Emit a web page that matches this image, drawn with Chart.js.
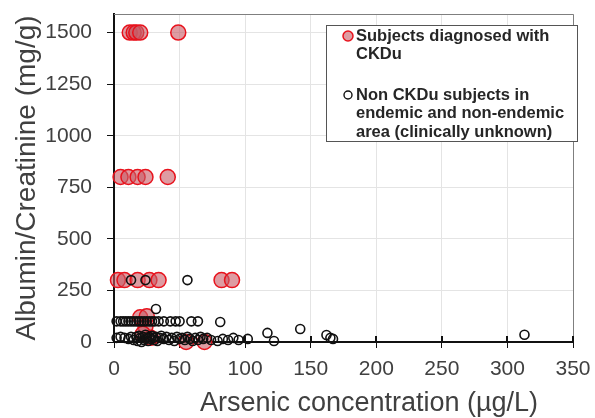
<!DOCTYPE html>
<html>
<head>
<meta charset="utf-8">
<script src="https://cdn.jsdelivr.net/npm/chart.js@4.4.0/dist/chart.umd.min.js"></script>
<style>body{margin:0;background:#fff}</style>
</head>
<body>
<canvas id="arsenicChart" width="595" height="418"></canvas>
<script>
// CKDu patients
var ckduX = [12, 15, 17, 20, 49,
             5, 11, 18, 24, 41,
             3, 8, 18, 27, 34, 82, 90,
             20, 25, 24, 28, 22, 55, 69];
var ckduY = [1500, 1500, 1500, 1500, 1500,
             800, 800, 800, 800, 800,
             300, 300, 300, 300, 300, 300, 300,
             120, 125, 75, 20, 40, 0, 0];

// non CKDu subjects
var otherX = [13, 24, 56, 32,
              2, 5, 7, 9, 11, 13, 15, 17, 19, 21, 23, 25, 27, 29, 31, 34, 38, 43, 47, 50, 59, 64, 81,
              2, 5, 8, 11, 13, 15, 17, 18, 19, 20, 21, 22, 23, 24, 25, 26, 27, 28, 29, 30, 31, 32, 33, 35, 36, 38,
              40, 42, 44, 46, 48, 50, 52, 54, 56, 58, 60, 62, 64, 66, 68, 71, 74, 79, 83, 87, 91, 95, 102,
              117, 122, 142, 162, 165, 167, 313];
var otherY = [300, 300, 300, 160,
              100, 100, 100, 100, 100, 100, 100, 100, 100, 100, 100, 100, 100, 100, 100, 100, 100, 100, 100, 100, 100, 100, 97,
              20, 25, 20, 15, 25, 10, 25, 5, 30, 20, 0, 25, 10, 35, 20, 5, 25, 15, 30, 20, 10, 25, 5, 20, 30, 15,
              25, 10, 20, 5, 25, 15, 20, 10, 25, 15, 5, 20, 10, 25, 15, 20, 10, 5, 15, 10, 20, 10, 15,
              44, 5, 63, 34, 20, 15, 35];

var xTicks = [0, 50, 100, 150, 200, 250, 300, 350];
var yTicks = [0, 250, 500, 750, 1000, 1250, 1500];
var xTitle = "Arsenic concentration (µg/L)";
var yTitle = "Albumin/Creatinine (mg/g)";
var legendLines = [["Subjects diagnosed with", "CKDu"],
                   ["Non CKDu subjects in", "endemic and non-endemic", "area (clinically unknown)"]];

var FONT = "'Liberation Sans', Arial, sans-serif";
var RED_FILL = "rgba(200, 90, 100, 0.6)";
var RED_LINE = "#e8121c";

function toPoints(xs, ys) {
    return xs.map(function(x, i) { return {x: x, y: ys[i]}; });
}

var extras = {
    id: "extras",
    beforeDatasetsDraw: function(chart) {
        var a = chart.chartArea, ctx = chart.ctx, xs = chart.scales.x;
        ctx.save();
        // top and right frame
        ctx.strokeStyle = "#7f7f7f";
        ctx.lineWidth = 1;
        ctx.beginPath();
        ctx.moveTo(a.left, a.top + 0.5);
        ctx.lineTo(a.right + 0.5, a.top + 0.5);
        ctx.lineTo(a.right + 0.5, a.bottom);
        ctx.stroke();
        // x ticks cross the axis
        ctx.strokeStyle = "#111";
        ctx.lineWidth = 2;
        xTicks.forEach(function(v) {
            var px = Math.round(xs.getPixelForValue(v));
            ctx.beginPath();
            ctx.moveTo(px, a.bottom - 6);
            ctx.lineTo(px, a.bottom);
            ctx.stroke();
        });
        // x axis title sits right of centre in the original
        ctx.font = "27px " + FONT;
        ctx.fillStyle = "#404040";
        ctx.textAlign = "center";
        ctx.textBaseline = "middle";
        ctx.fillText(xTitle, 369, 404);
        ctx.restore();
    },
    afterDraw: function(chart) {
        var ctx = chart.ctx;
        var bx = 326, by = 25, bw = 251, bh = 116;
        ctx.save();
        ctx.fillStyle = "#fff";
        ctx.fillRect(bx, by, bw, bh);
        ctx.strokeStyle = "#555";
        ctx.lineWidth = 1;
        ctx.strokeRect(bx + 0.5, by + 0.5, bw, bh);
        ctx.font = "bold 16.5px " + FONT;
        ctx.fillStyle = "#262626";
        ctx.textBaseline = "middle";
        var starts = [36, 95];
        legendLines.forEach(function(lines, k) {
            var y0 = starts[k];
            lines.forEach(function(t, j) {
                ctx.fillText(t, 356, y0 + j * 18.5);
            });
            ctx.beginPath();
            if (k === 0) {
                ctx.arc(348, y0, 5, 0, Math.PI * 2);
                ctx.fillStyle = RED_FILL;
                ctx.fill();
                ctx.strokeStyle = RED_LINE;
                ctx.lineWidth = 1.5;
                ctx.stroke();
            } else {
                ctx.arc(348, y0, 4, 0, Math.PI * 2);
                ctx.strokeStyle = "#111";
                ctx.lineWidth = 1.4;
                ctx.stroke();
            }
            ctx.fillStyle = "#262626";
        });
        ctx.restore();
    }
};

new Chart("arsenicChart", {
    type: "scatter",
    data: {
        datasets: [{
            label: "Non CKDu subjects",
            data: toPoints(otherX, otherY),
            backgroundColor: "rgba(0,0,0,0)",
            borderColor: "#111",
            borderWidth: 1.6,
            pointRadius: 4.5,
            clip: false,
            order: 1
        }, {
            label: "Subjects diagnosed with CKDu",
            data: toPoints(ckduX, ckduY),
            backgroundColor: RED_FILL,
            borderColor: RED_LINE,
            borderWidth: 1.5,
            pointRadius: 7.5,
            clip: false,
            order: 2
        }]
    },
    options: {
        responsive: false,
        animation: false,
        layout: {padding: {top: 14, right: 22, left: 0, bottom: 0}},
        plugins: {legend: {display: false}, tooltip: {enabled: false}},
        scales: {
            x: {
                type: "linear",
                min: 0, max: 350,
                afterBuildTicks: function(s) { s.ticks = xTicks.map(function(v) { return {value: v}; }); },
                afterFit: function(s) { s.height = 76; s.paddingLeft = 0; s.paddingRight = 0; },
                grid: {color: "#e4e4e4", tickColor: "#111", tickLength: 6},
                border: {color: "#111", width: 2},
                ticks: {color: "#404040", padding: 9, font: {family: FONT, size: 21}, maxRotation: 0,
                        callback: function(v) { return String(v); }}
            },
            y: {
                type: "linear",
                min: 0, max: 1590,
                afterBuildTicks: function(s) { s.ticks = yTicks.map(function(v) { return {value: v}; }); },
                afterFit: function(s) { s.width = 114; s.paddingTop = 0; s.paddingBottom = 0; },
                grid: {color: "#e4e4e4", tickColor: "#111", tickLength: 7},
                border: {color: "#111", width: 2},
                ticks: {color: "#404040", padding: 15, font: {family: FONT, size: 21},
                        callback: function(v) { return String(v); }},
                title: {display: true, text: yTitle, color: "#404040",
                        font: {family: FONT, size: 28, lineHeight: 1}, padding: {top: 13, bottom: 0}}
            }
        }
    },
    plugins: [extras]
});
</script>
</body>
</html>
